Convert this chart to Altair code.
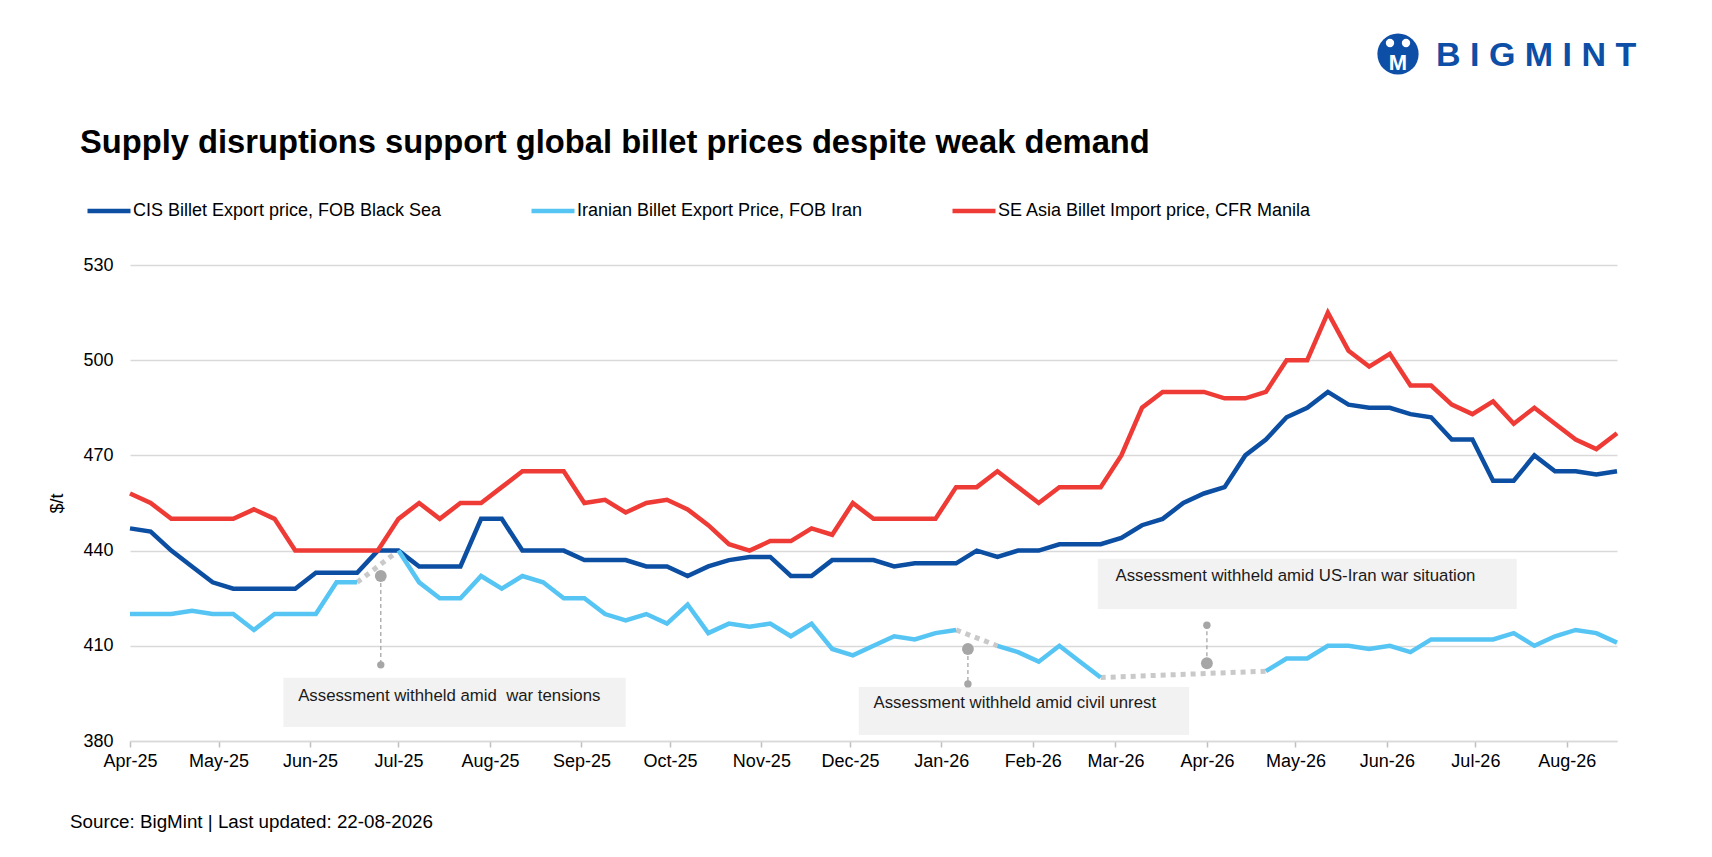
import altair as alt
import pandas as pd

FONT = "Liberation Sans"

# weekly assessments, the first one on 1 Apr 2025
first_week = "2025-04-01"

series_names = [
    "CIS Billet Export price, FOB Black Sea",
    "Iranian Billet Export Price, FOB Iran",
    "SE Asia Billet Import price, CFR Manila",
]
series_colors = ["#0B4EA2", "#56C5F3", "#EE3B36"]

cis = [447, 446, 440, 435, 430, 428, 428, 428, 428, 433,
       433, 433, 440, 440, 435, 435, 435, 450, 450, 440,
       440, 440, 437, 437, 437, 435, 435, 432, 435, 437,
       438, 438, 432, 432, 437, 437, 437, 435, 436, 436,
       436, 440, 438, 440, 440, 442, 442, 442, 444, 448,
       450, 455, 458, 460, 470, 475, 482, 485, 490, 486,
       485, 485, 483, 482, 475, 475, 462, 462, 470, 465,
       465, 464, 465]

iran = [420, 420, 420, 421, 420, 420, 415, 420, 420, 420,
        430, 430, None, 440, 430, 425, 425, 432, 428, 432,
        430, 425, 425, 420, 418, 420, 417, 423, 414, 417,
        416, 417, 413, 417, 409, 407, 410, 413, 412, 414,
        415, None, 410, 408, 405, 410, 405, 400, None, None,
        None, None, None, None, None, 402, 406, 406, 410, 410,
        409, 410, 408, 412, 412, 412, 412, 414, 410, 413,
        415, 414, 411]

manila = [458, 455, 450, 450, 450, 450, 453, 450, 440, 440,
          440, 440, 440, 450, 455, 450, 455, 455, 460, 465,
          465, 465, 455, 456, 452, 455, 456, 453, 448, 442,
          440, 443, 443, 447, 445, 455, 450, 450, 450, 450,
          460, 460, 465, 460, 455, 460, 460, 460, 470, 485,
          490, 490, 490, 488, 488, 490, 500, 500, 515, 503,
          498, 502, 492, 492, 486, 483, 487, 480, 485, 480,
          475, 472, 477]

# Iran weeks without assessment are bridged by a dotted line (week before, week after)
bridges = [(11, 13), (40, 42), (47, 55)]

notes = [
    "Assessment withheld amid\u00a0 war tensions",
    "Assessment withheld amid civil unrest",
    "Assessment withheld amid US-Iran war situation",
]
note_dates = ["2025-05-28", "2025-12-09", "2026-03-01"]
note_values = [394.2, 392.0, 432.0]
box_start = ["2025-05-23", "2025-12-04", "2026-02-23"]
box_end = ["2025-09-16", "2026-03-26", "2026-07-15"]
box_low = [384.4, 381.9, 421.6]
box_high = [399.9, 397.0, 437.4]
marker_dates = ["2025-06-25", "2026-01-10", "2026-04-01"]
marker_values = [432.0, 409.0, 404.5]
pin_values = [404.0, 398.0, 416.5]

title = "Supply disruptions support global billet prices despite weak demand"
source = "Source: BigMint | Last updated: 22-08-2026"

weeks = pd.date_range(first_week, periods=len(cis), freq="7D")

rows = []
for name, values in zip(series_names, [cis, iran, manila]):
    seg = 0
    for d, v in zip(weeks, values):
        if v is None:
            seg += 1
            continue
        rows.append({"date": d, "price": v, "series": name, "seg": f"{name}-{seg}"})
lines_df = pd.DataFrame(rows)

bridge_df = pd.DataFrame([
    {"date": weeks[i], "price": iran[i], "gap": k}
    for k, pair in enumerate(bridges) for i in pair
])

notes_df = pd.DataFrame({
    "text": notes,
    "date": pd.to_datetime(note_dates),
    "value": note_values,
    "x1": pd.to_datetime(box_start),
    "x2": pd.to_datetime(box_end),
    "y1": box_low,
    "y2": box_high,
    "mdate": pd.to_datetime(marker_dates),
    "marker": marker_values,
    "pin": pin_values,
})

first, last = weeks[0], weeks[-1]
x_scale = alt.Scale(domain=[
    alt.DateTime(year=first.year, month=first.month, date=first.day),
    alt.DateTime(year=last.year, month=last.month, date=last.day),
])
y_scale = alt.Scale(domain=[380, 530], nice=False, zero=False)

boxes = alt.Chart(notes_df).mark_rect(color="#F2F2F2").encode(
    x=alt.X("x1:T", scale=x_scale), x2="x2:T",
    y=alt.Y("y1:Q", scale=y_scale), y2="y2:Q",
)

dotted = alt.Chart(bridge_df).mark_line(
    color="#C9C9C9", strokeWidth=5, strokeDash=[5, 5]
).encode(
    x=alt.X("date:T", scale=x_scale), y=alt.Y("price:Q", scale=y_scale), detail="gap:N"
)

lines = alt.Chart(lines_df).mark_line(strokeWidth=4.5).encode(
    x=alt.X("date:T", scale=x_scale, title=None,
            axis=alt.Axis(format="%b-%y", tickCount={"interval": "month", "step": 1},
                          grid=False, domainColor="#D9D9D9", domainWidth=1.5,
                          tickColor="#BFBFBF", tickSize=6, tickWidth=1.5,
                          labelFontSize=18, labelFont=FONT, labelColor="#000000",
                          labelPadding=5, labelOverlap=False, labelFlush=False)),
    y=alt.Y("price:Q", scale=y_scale, title="$/t",
            axis=alt.Axis(values=[380, 410, 440, 470, 500, 530], grid=True,
                          gridColor="#D9D9D9", gridWidth=1.5, domain=False, ticks=False,
                          labelFontSize=18, labelFont=FONT, labelColor="#000000",
                          labelPadding=17, titleFontSize=18, titleFont=FONT,
                          titleFontWeight="normal", titleColor="#000000", titlePadding=16)),
    color=alt.Color("series:N", sort=series_names,
                    scale=alt.Scale(domain=series_names, range=series_colors),
                    legend=alt.Legend(title=None, orient="none", legendX=-45, legendY=-78,
                                      direction="horizontal", symbolType="stroke",
                                      symbolSize=1849, symbolStrokeWidth=4.5,
                                      labelFontSize=18, labelFont=FONT, labelColor="#000000",
                                      labelLimit=600, labelOffset=0, columnPadding=80,
                                      padding=0)),
    detail="seg:N",
)

pins = alt.Chart(notes_df).mark_rule(
    color="#A6A6A6", strokeWidth=1.3, strokeDash=[4, 3]
).encode(x="mdate:T", y="marker:Q", y2="pin:Q")

markers = alt.Chart(notes_df).mark_circle(color="#A6A6A6", opacity=1, size=140).encode(
    x="mdate:T", y="marker:Q"
)
pin_heads = alt.Chart(notes_df).mark_circle(color="#A6A6A6", opacity=1, size=55).encode(
    x="mdate:T", y="pin:Q"
)

note_text = alt.Chart(notes_df).mark_text(
    align="left", baseline="middle", font=FONT, fontSize=16.8, color="#1A1A1A"
).encode(x="date:T", y="value:Q", text="text:N")

title_text = alt.Chart(pd.DataFrame({"t": [title]})).mark_text(
    align="left", baseline="alphabetic", font=FONT, fontSize=32.7, fontWeight="bold",
    color="#000000"
).encode(x=alt.value(-50), y=alt.value(-112), text="t:N")

source_text = alt.Chart(pd.DataFrame({"t": [source]})).mark_text(
    align="left", baseline="middle", font=FONT, fontSize=18.8, color="#000000"
).encode(x=alt.value(-60), y=alt.value(557), text="t:N")

# BigMint logo: blue badge with two white heads and an M, then the word mark
logo_badge = alt.Chart(pd.DataFrame({"t": [""]})).mark_circle(
    color="#0D4EA6", opacity=1, size=1700
).encode(x=alt.value(1268), y=alt.value(-211))
logo_heads = alt.Chart(pd.DataFrame({"hx": [1260, 1276]})).mark_circle(
    color="#FFFFFF", opacity=1, size=70
).encode(x=alt.X("hx:Q", scale=None), y=alt.value(-222))
logo_m = alt.Chart(pd.DataFrame({"t": ["M"]})).mark_text(
    font=FONT, fontSize=22, fontWeight="bold", color="#FFFFFF", baseline="middle"
).encode(x=alt.value(1268), y=alt.value(-202), text="t:N")
logo_word = alt.Chart(pd.DataFrame({"t": ["B I G M I N T"]})).mark_text(
    align="left", baseline="middle", font=FONT, fontSize=34, fontWeight="bold",
    color="#0D4EA6"
).encode(x=alt.value(1306), y=alt.value(-209), text="t:N")

chart = alt.layer(
    boxes, dotted, lines, pins, markers, pin_heads, note_text,
    title_text, source_text, logo_badge, logo_heads, logo_m, logo_word,
).properties(
    width=1487, height=476,
    autosize=alt.AutoSizeParams(type="none"),
    padding={"left": 122, "top": 257, "right": 80, "bottom": 100},
    background="#FFFFFF",
).configure_view(strokeWidth=0)

chart.save("out.html", embed_options={"renderer": "svg", "actions": False})
